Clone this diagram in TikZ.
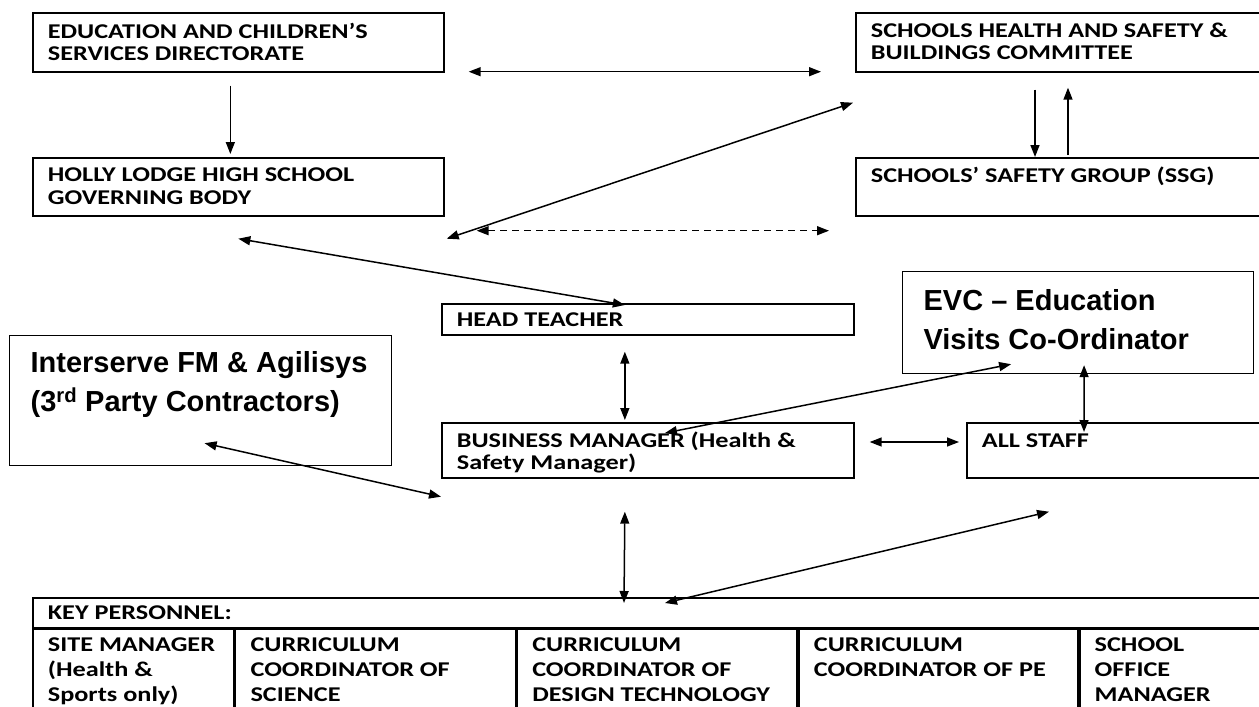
\documentclass[tikz,border=0pt]{standalone}
\usepackage{fontspec}
\setmainfont{Carlito}[FakeStretch=1.25]
\newfontfamily\arialfont{Liberation Sans}
\usepackage{tikz}
\usetikzlibrary{arrows.meta, positioning, calc}

% text block inside a box: width, height, top pad, text
\newcommand{\boxtext}[4]{\parbox[t][#2pt][t]{#1pt}{\lineskiplimit=-100pt\vspace*{#3pt}#4}}

\begin{document}
\begin{tikzpicture}[x=1pt, y=-1pt, >={Triangle[length=12pt,width=9pt]},
        unit/.style={draw, line width=1.7pt, anchor=north west, inner xsep=15pt, inner ysep=0pt,
            font=\bfseries\fontsize{21}{22.5}\selectfont},
        bigunit/.style={draw, line width=1.2pt, anchor=north west, inner xsep=21pt, inner ysep=0pt,
            font=\arialfont\bfseries\fontsize{29}{39}\selectfont},
        cell/.style={draw, line width=1.7pt, anchor=north west, inner xsep=15pt, inner ysep=0pt,
            font=\bfseries\fontsize{21}{25}\selectfont},
        line/.style={draw, <->, line width=1.5pt}]

        \useasboundingbox [fill=white] (0,0) rectangle (1259,707);

        % Nodes
        \node [unit] (edu) at (32,12) {\boxtext{381}{59}{10}{EDUCATION AND CHILDREN'S\\SERVICES DIRECTORATE}};
        \node [unit] (gov) at (32,157) {\boxtext{381}{58}{10}{HOLLY LODGE HIGH SCHOOL\\GOVERNING BODY}};
        \node [unit] (shs) at (855,12) {\boxtext{377}{59}{10}{SCHOOLS HEALTH AND SAFETY \&\\BUILDINGS COMMITTEE}};
        \node [unit] (ssg) at (855,157) {\boxtext{377}{58}{9}{SCHOOLS' SAFETY GROUP (SSG)}};
        \node [unit] (head) at (441,303) {\boxtext{382}{31}{9}{HEAD TEACHER}};
        \node [bigunit] (evc) at (902,271) {\boxtext{309}{102}{18}{EVC – Education\\Visits Co-Ordinator}};
        \node [bigunit] (inter) at (9,335) {\boxtext{340}{130}{16}{Interserve FM \& Agilisys\\(3\textsuperscript{rd} Party Contractors)}};
        \node [unit] (bm) at (441,422) {\boxtext{382}{55}{9}{BUSINESS MANAGER (Health \&\\Safety Manager)}};
        \node [unit] (staff) at (966,422) {\boxtext{266}{55}{11}{ALL STAFF}};

        % Key personnel table
        \node [cell] (key) at (32,597) {\boxtext{1200}{30}{8}{KEY PERSONNEL:}};
        \node [cell] (site) at (key.south west) {\boxtext{171}{100}{8}{SITE MANAGER\\(Health \&\\Sports only)}};
        \node [cell] (sci) at (site.north east) {\boxtext{250}{100}{8}{CURRICULUM\\COORDINATOR OF\\SCIENCE}};
        \node [cell] (dt) at (sci.north east) {\boxtext{250}{100}{8}{CURRICULUM\\COORDINATOR OF\\DESIGN TECHNOLOGY}};
        \node [cell] (pe) at (dt.north east) {\boxtext{249}{100}{8}{CURRICULUM\\COORDINATOR OF PE}};
        \node [cell] (office) at (pe.north east) {\boxtext{161}{100}{8}{SCHOOL\\OFFICE\\MANAGER}};

        % Paths
        \draw [->, line width=1.5pt] ($(edu.south)+(-8,13)$) -- ($(gov.north)+(-8,-3)$);
        \path [line] ($(edu.south east)+(24,-1)$) -- ($(shs.south west)+(-34,-1)$);
        \path [line] ($(gov.south east)+(2,22)$) -- ($(shs.south west)+(-2,30)$);
        \path [line, dashed, dash pattern=on 7pt off 5pt] ($(gov.south east)+(32,14)$) -- ($(ssg.south west)+(-26,14)$);
        \draw [->, line width=1.5pt] ($(shs.south west)+(180,17)$) -- ($(ssg.north west)+(180,0)$);
        \draw [->, line width=1.5pt] ($(ssg.north west)+(213,-2)$) -- ($(shs.south west)+(213,15)$);

        \path [line] ($(gov.south)+(0,22)$) -- ($(head.north)+(-23,2)$);
        \path [line] ($(head.south)+(-23,16)$) -- ($(bm.north)+(-23,-2)$);
        \path [line] ($(inter.south)+(4,-23)$) -- ($(bm.south west)+(0,18)$);
        \path [line] ($(evc.south)+(-67,-10)$) -- ($(bm.north west)+(224,11)$);
        \path [line] ($(evc.south)+(6,-9)$) -- ($(staff.north west)+(118,10)$);
        \path [line] ($(bm.north east)+(15,20)$) -- ($(staff.north west)+(-7,20)$);
        \path [line] ($(bm.south)+(-23,33)$) -- ($(key.north west)+(592,6)$);
        \path [line] ($(key.north west)+(633,6)$) -- ($(staff.south west)+(83,33)$);
\end{tikzpicture}
\end{document}
